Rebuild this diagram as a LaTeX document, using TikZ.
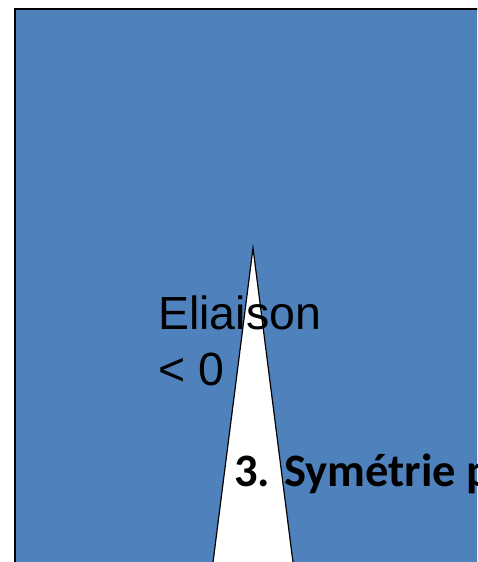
\documentclass[tikz,border=0pt]{standalone}
\usepackage{fontspec}
\usepackage{tikz}
\newfontfamily\arialfont{Liberation Sans}
\newfontfamily\calibrifont{Carlito}
\definecolor{panelblue}{RGB}{79,129,189}

\begin{document}
\begin{tikzpicture}[x=1pt,y=-1pt,line join=miter,every node/.style={inner sep=0pt,anchor=base west}]
            \useasboundingbox (0,0) rectangle (477,562);
            \clip (0,0) rectangle (477,562);
            \fill[white] (0,0) rectangle (477,562);

            \draw[line width=2pt,fill=panelblue] (15,9) rectangle (520,600);

            \coordinate (apex) at (253,248);
            \coordinate (bl) at (211,578);
            \coordinate (br) at (295,578);
            \draw[line width=1.2pt,fill=white] (bl) -- (apex) -- (br);

            \node[align=left,font=\arialfont\fontsize{46.5}{56}\selectfont] (lbl) at (158,385){Eliaison\\< 0};
            \node[font=\calibrifont\bfseries\fontsize{46.5}{56}\selectfont] (title) at (234,486){3. Symétrie p};
        \end{tikzpicture}
\end{document}
